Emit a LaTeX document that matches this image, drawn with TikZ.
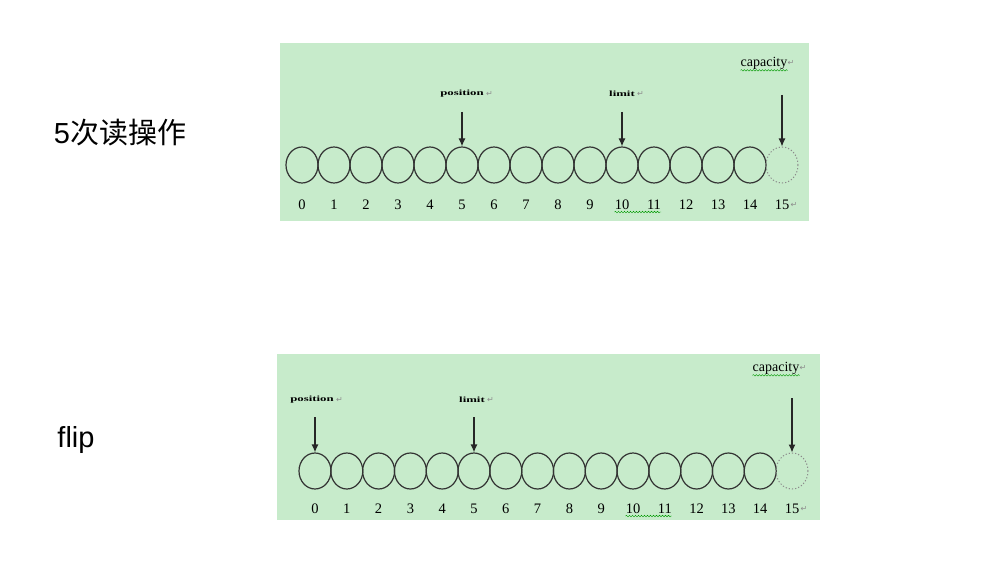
\documentclass[tikz,border=0pt]{standalone}
\usepackage{fontspec}
\setmainfont{Liberation Serif}
\newfontfamily\cjk{Noto Sans CJK SC}
\newfontfamily\arial{Liberation Sans}
\newfontfamily\symb{DejaVu Sans}
\usetikzlibrary{shapes.geometric, arrows.meta, positioning, decorations.pathmorphing}
\definecolor{vertfond}{RGB}{199,235,203}
\begin{document}
\begin{tikzpicture}[x=1pt, y=-1pt]
	\tikzset{cellule/.style={ellipse, draw=black!80, line width=1.2pt, minimum width=32pt, minimum height=36pt, inner sep=0pt},
	derniere/.style={cellule, draw=black!45, dotted, line width=1pt},
	num/.style={font=\fontsize{14.5}{16}\selectfont, inner sep=0pt},
	petit/.style={font=\fontsize{8}{9}\selectfont\bfseries, inner sep=0pt},
	capa/.style={font=\fontsize{14}{16}\selectfont, inner sep=0pt},
	retour/.style={font=\symb\fontsize{8}{9}\selectfont, text=black!45, inner sep=0pt},
	titre/.style={font=\fontsize{29}{32}\selectfont, inner sep=0pt},
	souligne/.style={draw=green!60!black, decorate, decoration={snake, amplitude=0.8pt, segment length=3pt}},
	fleche/.style={line width=1.2pt, draw=black!85, -{Latex[length=8pt,width=7pt]}}};

	\useasboundingbox (0,0) rectangle (987,564);
	\fill[vertfond] (280,43) rectangle (809,221);
	\fill[vertfond] (277,354) rectangle (820,520);

	% titres
	\node[titre] (t-lire) at (120,133) {\arial 5\cjk 次读操作};
	\node[titre] (t-flip) at (76,440) {\arial flip};

	% tampon apres 5 lectures
	\foreach \i in {0,...,14}{
		\node[cellule] (h\i) at ({302+32*\i},165) {};
		\node[num] (nh\i) at ({302+32*\i},205) {\i};
	}
	\node[derniere] (h15) at (782,165) {};
	\node[num] (nh15) at (782,205) {15};
	\node[retour, right=1pt of nh15] (rh15) {↵};
	\draw[souligne] ([yshift=-2pt]nh10.south west) -- ([yshift=-2pt]nh11.south east);

	\node[petit] (pos-h) at (462,94) {\scalebox{1.6}[1]{position}};
	\node[retour, right=2pt of pos-h] {↵};
	\node[petit] (lim-h) at (622,94) {\scalebox{1.6}[1]{limit}};
	\node[retour, right=2pt of lim-h] {↵};
	\node[capa] (cap-h) at (764,63) {capacity};
	\node[retour, right=0pt of cap-h] {↵};
	\draw[souligne] ([yshift=-1pt]cap-h.south west) -- ([yshift=-1pt]cap-h.south east);

	\coordinate (d-pos-h) at (h5.north |- 0,112);
	\coordinate (d-lim-h) at (h10.north |- 0,112);
	\coordinate (d-cap-h) at (h15.north |- 0,95);
	\draw[fleche] (d-pos-h) -- (h5.north);
	\draw[fleche] (d-lim-h) -- (h10.north);
	\draw[fleche] (d-cap-h) -- (h15.north);

	% tampon apres flip
	\foreach \i in {0,...,14}{
		\node[cellule] (b\i) at ({315+31.8*\i},471) {};
		\node[num] (nb\i) at ({315+31.8*\i},509) {\i};
	}
	\node[derniere] (b15) at (792,471) {};
	\node[num] (nb15) at (792,509) {15};
	\node[retour, right=1pt of nb15] (rb15) {↵};
	\draw[souligne] ([yshift=-2pt]nb10.south west) -- ([yshift=-2pt]nb11.south east);

	\node[petit] (pos-b) at (312,400) {\scalebox{1.6}[1]{position}};
	\node[retour, right=2pt of pos-b] {↵};
	\node[petit] (lim-b) at (472,400) {\scalebox{1.6}[1]{limit}};
	\node[retour, right=2pt of lim-b] {↵};
	\node[capa] (cap-b) at (776,368) {capacity};
	\node[retour, right=0pt of cap-b] {↵};
	\draw[souligne] ([yshift=-1pt]cap-b.south west) -- ([yshift=-1pt]cap-b.south east);

	\coordinate (d-pos-b) at (b0.north |- 0,417);
	\coordinate (d-lim-b) at (b5.north |- 0,417);
	\coordinate (d-cap-b) at (b15.north |- 0,398);
	\draw[fleche] (d-pos-b) -- (b0.north);
	\draw[fleche] (d-lim-b) -- (b5.north);
	\draw[fleche] (d-cap-b) -- (b15.north);

\end{tikzpicture}
\end{document}
